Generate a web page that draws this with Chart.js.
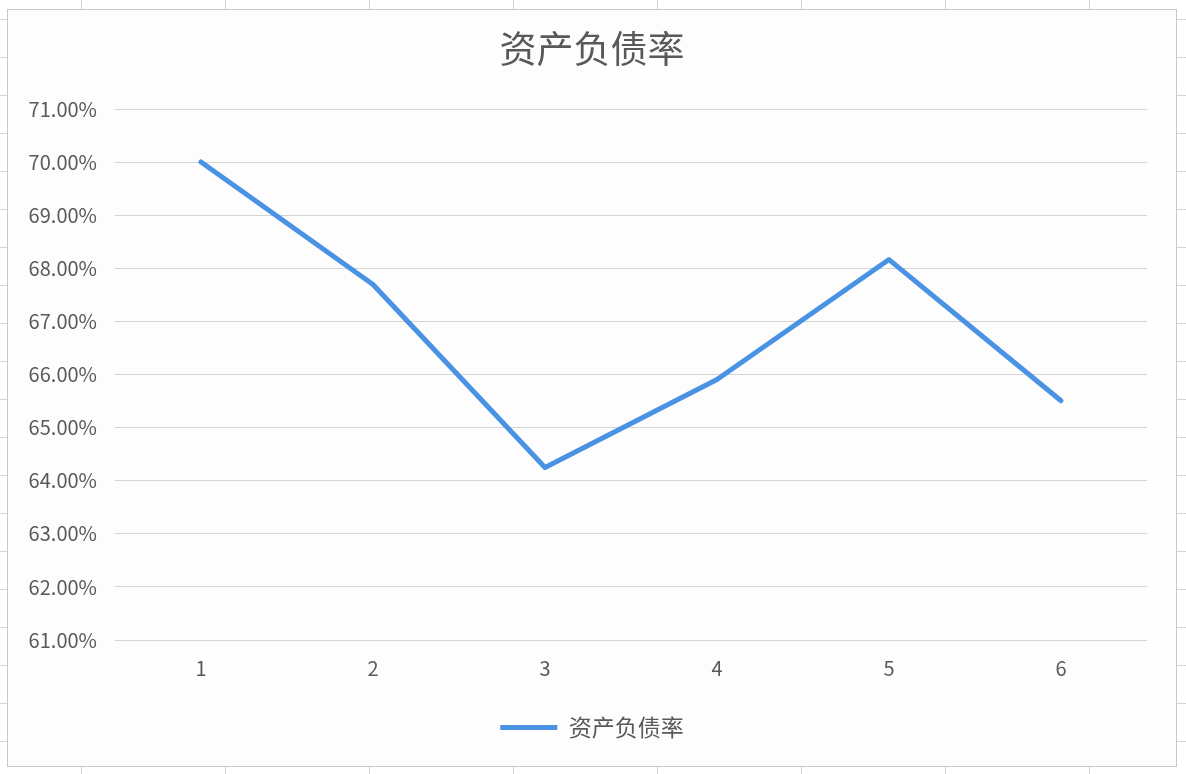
<!DOCTYPE html>
<html lang="zh">
<head>
<meta charset="UTF-8" />
<title>资产负债率</title>
<script src="https://cdn.jsdelivr.net/npm/chart.js"></script>
<style>
  html, body { margin: 0; padding: 0; }
  body {
    width: 1186px;
    height: 774px;
    overflow: hidden;
    background-color: #ffffff;
    /* spreadsheet cells behind the chart */
    background-image:
      linear-gradient(to right, #d4d4d4 1px, transparent 1px),
      linear-gradient(to bottom, #d4d4d4 1px, transparent 1px);
    background-size: 144px 38px;
    background-position: 81px 19px;
    position: relative;
  }
  #box {
    position: absolute;
    left: 7px;
    top: 9px;
    width: 1170px;
    height: 758px;
    box-sizing: border-box;
    border: 1px solid #c8c8c8;
    background: #fdfdfd;
  }
  #myChart { display: block; }
</style>
</head>
<body>
<div id="box"><canvas id="myChart" width="1168" height="756"></canvas></div>
<script>
  const categories = ['1', '2', '3', '4', '5', '6'];
  const seriesName = '资产负债率';
  // percent values
  const debtRatio = [70.01, 67.70, 64.25, 65.91, 68.17, 65.51];
  const yMin = 61, yMax = 71, yStep = 1;

  const font = '"Noto Sans CJK SC", "Noto Sans", sans-serif';
  const textColor = '#595959';
  const lineColor = '#4a92e3';

  const ctx = document.getElementById('myChart').getContext('2d');

  new Chart(ctx, {
    type: 'line',
    data: {
      labels: categories,
      datasets: [{
        label: seriesName,
        data: debtRatio,
        borderColor: lineColor,
        backgroundColor: lineColor,
        borderWidth: 5,
        borderCapStyle: 'round',
        borderJoinStyle: 'round',
        pointRadius: 0,
        pointHoverRadius: 0,
        tension: 0
      }]
    },
    options: {
      responsive: false,
      animation: false,
      devicePixelRatio: 1,
      layout: { padding: { left: 0, right: 0, top: 0, bottom: 17 } },
      plugins: {
        title: {
          display: true,
          text: seriesName,
          color: textColor,
          font: { family: font, size: 37, weight: 'normal' },
          padding: { top: 17, bottom: 38 }
        },
        legend: {
          position: 'bottom',
          labels: {
            color: textColor,
            font: { family: font, size: 23 },
            usePointStyle: true,
            pointStyle: 'line',
            pointStyleWidth: 57,
            boxHeight: 23,
            padding: 10
          }
        },
        tooltip: { enabled: false }
      },
      scales: {
        x: {
          offset: true,
          grid: { display: false, drawTicks: false },
          border: { display: false },
          ticks: {
            color: textColor,
            font: { family: font, size: 20 },
            padding: 16
          },
          afterFit: (s) => { s.height = 66; }
        },
        y: {
          min: yMin,
          max: yMax,
          grid: { color: '#d4d4d4', lineWidth: 1, drawTicks: false },
          border: { display: false },
          ticks: {
            stepSize: yStep,
            color: textColor,
            font: { family: font, size: 20 },
            padding: 18,
            callback: (v) => v.toFixed(2) + '%'
          },
          afterFit: (s) => { s.width = 107; }
        },
        // empty right-hand axis, only to keep the right margin inside the chart
        yRight: {
          position: 'right',
          min: yMin,
          max: yMax,
          grid: { display: false, drawTicks: false },
          border: { display: false },
          ticks: { display: false },
          afterFit: (s) => { s.width = 29; }
        }
      }
    }
  });
</script>
</body>
</html>
